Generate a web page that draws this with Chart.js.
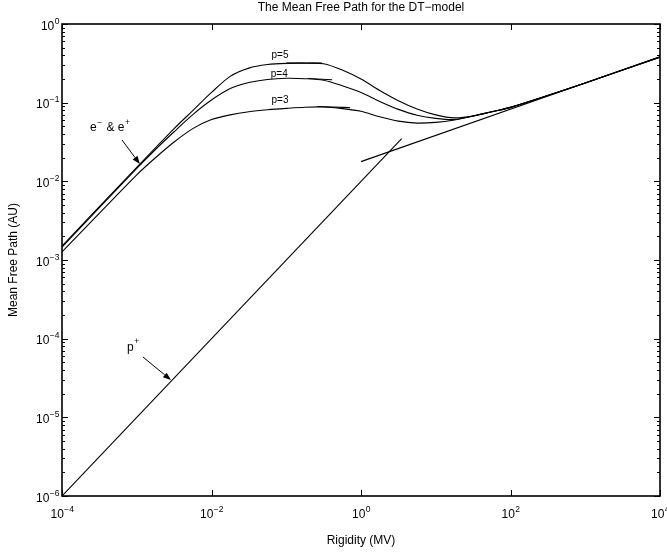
<!DOCTYPE html>
<html>
<head>
<meta charset="utf-8">
<title>The Mean Free Path for the DT-model</title>
<script src="https://cdn.jsdelivr.net/npm/chart.js@4.4.1/dist/chart.umd.min.js"></script>
<style>
  html, body { margin: 0; padding: 0; background: #fff; }
  #wrap { width: 667px; height: 556px; position: relative; }
</style>
</head>
<body>
<div id="wrap"><canvas id="mfp"></canvas></div>
<script>
// rigidity grid (MV) shared by the three electron curves
const rigidity = [1e-4, 1e-3, 1.78e-3, 3.16e-3, 5.62e-3, 1e-2, 1.78e-2, 3.16e-2, 5.62e-2, 0.1, 0.178, 0.316, 0.562,
                  1, 1.78, 3.16, 5.62, 10, 17.8, 31.6, 56.2, 100, 1000, 10000];
// mean free path (AU)
const lambdaP5 = [1.507e-3, 0.01507, 0.0266, 0.0468, 0.0794, 0.135, 0.216, 0.275, 0.305, 0.3162, 0.3177, 0.3126, 0.26,
                  0.1995, 0.1429, 0.1059, 0.0832, 0.070, 0.0641, 0.0676, 0.0767, 0.0871, 0.178, 0.38];
const lambdaP4 = [1.462e-3, 0.01462, 0.0254, 0.0427, 0.0705, 0.108, 0.151, 0.18, 0.197, 0.2042, 0.2018, 0.1928, 0.1641,
                  0.1349, 0.1035, 0.0822, 0.0692, 0.0631, 0.061, 0.0676, 0.0767, 0.0871, 0.178, 0.38];
const lambdaP3 = [1.265e-3, 0.01208, 0.01995, 0.0316, 0.0468, 0.061, 0.070, 0.0767, 0.0813, 0.0847, 0.0875, 0.0881, 0.0841,
                  0.0776, 0.0661, 0.0582, 0.055, 0.0562, 0.0603, 0.0676, 0.0767, 0.0871, 0.178, 0.38];

// short overlapping pieces at the end of each plateau
const tailRigidity5 = [0.1, 0.3];
const tailLambda5 = [0.319, 0.318];
const tailRigidity4 = [0.195, 0.41];
const tailLambda4 = [0.203, 0.196];
const tailRigidity3 = [0.26, 0.71];
const tailLambda3 = [0.0895, 0.0865];

// protons and the high rigidity asymptote
const protonRigidity = [1e-4, 3.5];
const protonLambda = [1e-6, 0.035];
const asymRigidity = [1, 1e4];
const asymLambda = [0.0178, 0.383];

// tick labels (powers of ten)
const xTickExp = [-4, -2, 0, 2, 4];
const yTickExp = [-6, -5, -4, -3, -2, -1, 0];

const curveLabels = ['p=5', 'p=4', 'p=3'];
const curveLabelAt = [[0.0824, 0.404], [0.0805, 0.231], [0.0824, 0.108]];

const pts = (xs, ys) => xs.map((x, i) => ({ x: x, y: ys[i] }));

const FONT = '"Liberation Sans", Arial, Helvetica, sans-serif';

function line(data, smooth) {
  return {
    data: data,
    showLine: true,
    borderColor: '#000',
    borderWidth: 1.1,
    pointRadius: 0,
    fill: false,
    tension: smooth ? 0.3 : 0
  };
}

function powLabel(ctx, exp, x, y, align) {
  const base = '10';
  const sup = exp < 0 ? '\u2212' + (-exp) : String(exp);
  ctx.font = '12px ' + FONT;
  const bw = ctx.measureText(base).width;
  ctx.font = '8.5px ' + FONT;
  const sw = ctx.measureText(sup).width;
  const left = align === 'right' ? x - bw - sw : x - (bw + sw) / 2;
  ctx.textAlign = 'left';
  ctx.textBaseline = 'alphabetic';
  ctx.font = '12px ' + FONT;
  ctx.fillText(base, left, y);
  ctx.font = '8.5px ' + FONT;
  ctx.fillText(sup, left + bw + 0.5, y - 6);
}

function arrow(ctx, x0, y0, x1, y1) {
  const ang = Math.atan2(y1 - y0, x1 - x0);
  const len = 8, half = 3;
  ctx.beginPath();
  ctx.moveTo(x0, y0);
  ctx.lineTo(x1 - len * Math.cos(ang), y1 - len * Math.sin(ang));
  ctx.stroke();
  ctx.beginPath();
  ctx.moveTo(x1, y1);
  ctx.lineTo(x1 - len * Math.cos(ang) + half * Math.sin(ang), y1 - len * Math.sin(ang) - half * Math.cos(ang));
  ctx.lineTo(x1 - len * Math.cos(ang) - half * Math.sin(ang), y1 - len * Math.sin(ang) + half * Math.cos(ang));
  ctx.closePath();
  ctx.fill();
}

const matlabAxes = {
  id: 'matlabAxes',
  afterDraw(chart) {
    const { ctx, chartArea: a, scales: { x, y } } = chart;
    ctx.save();
    ctx.strokeStyle = '#000';
    ctx.fillStyle = '#000';

    // ticks, pointing inwards
    ctx.lineWidth = 1;
    ctx.beginPath();
    yTickExp.forEach(e => {
      const py = Math.round(y.getPixelForValue(Math.pow(10, e))) + 0.5;
      ctx.moveTo(a.left, py); ctx.lineTo(a.left + 6, py);
      ctx.moveTo(a.right, py); ctx.lineTo(a.right - 6, py);
      if (e < 0) {
        for (let m = 2; m < 10; m++) {
          const pm = Math.round(y.getPixelForValue(m * Math.pow(10, e))) + 0.5;
          ctx.moveTo(a.left, pm); ctx.lineTo(a.left + 3, pm);
          ctx.moveTo(a.right, pm); ctx.lineTo(a.right - 3, pm);
        }
      }
    });
    xTickExp.forEach(e => {
      const px = Math.round(x.getPixelForValue(Math.pow(10, e))) + 0.5;
      ctx.moveTo(px, a.bottom); ctx.lineTo(px, a.bottom - 6);
      ctx.moveTo(px, a.top); ctx.lineTo(px, a.top + 6);
    });
    ctx.stroke();

    // box
    ctx.lineWidth = 1.6;
    ctx.strokeRect(a.left, a.top, a.right - a.left, a.bottom - a.top);

    // tick labels
    yTickExp.forEach(e => {
      powLabel(ctx, e, a.left - 3, y.getPixelForValue(Math.pow(10, e)) + 5.5, 'right');
    });
    xTickExp.forEach(e => {
      powLabel(ctx, e, x.getPixelForValue(Math.pow(10, e)), a.bottom + 21.5, 'center');
    });

    // titles
    ctx.font = '12px ' + FONT;
    ctx.textAlign = 'center';
    ctx.textBaseline = 'middle';
    ctx.fillText('The Mean Free Path for the DT\u2212model', (a.left + a.right) / 2, 8);
    ctx.fillText('Rigidity (MV)', (a.left + a.right) / 2, 541);
    ctx.save();
    ctx.translate(14, (a.top + a.bottom) / 2);
    ctx.rotate(-Math.PI / 2);
    ctx.fillText('Mean Free Path (AU)', 0, 0);
    ctx.restore();

    // curve labels
    ctx.font = '10px ' + FONT;
    curveLabels.forEach((t, i) => {
      ctx.fillText(t, x.getPixelForValue(curveLabelAt[i][0]), y.getPixelForValue(curveLabelAt[i][1]));
    });

    // e- & e+ label
    ctx.textAlign = 'left';
    ctx.textBaseline = 'alphabetic';
    let ex = x.getPixelForValue(4.53e-4) - 21, ey = y.getPixelForValue(0.049) + 4;
    ctx.font = '12px ' + FONT;
    ctx.fillText('e', ex, ey); ex += ctx.measureText('e').width + 0.5;
    ctx.font = '8.5px ' + FONT;
    ctx.fillText('\u2212', ex, ey - 6); ex += ctx.measureText('\u2212').width + 1;
    ctx.font = '12px ' + FONT;
    ctx.fillText(' & e', ex, ey); ex += ctx.measureText(' & e').width + 0.5;
    ctx.font = '8.5px ' + FONT;
    ctx.fillText('+', ex, ey - 6);

    // p+ label
    let px = x.getPixelForValue(8.63e-4) - 5, py = y.getPixelForValue(7.83e-5) + 4;
    ctx.font = '12px ' + FONT;
    ctx.fillText('p', px, py); px += ctx.measureText('p').width + 0.5;
    ctx.font = '8.5px ' + FONT;
    ctx.fillText('+', px, py - 7);

    // arrows
    ctx.lineWidth = 1;
    arrow(ctx, x.getPixelForValue(6.35e-4), y.getPixelForValue(0.0335),
               x.getPixelForValue(1.1e-3), y.getPixelForValue(0.0166));
    arrow(ctx, x.getPixelForValue(1.21e-3), y.getPixelForValue(5.85e-5),
               x.getPixelForValue(2.87e-3), y.getPixelForValue(2.98e-5));
    ctx.restore();
  }
};

const ctx = document.getElementById('mfp').getContext('2d');
const chart = new Chart(ctx, {
  type: 'scatter',
  data: {
    datasets: [
      line(pts(rigidity, lambdaP5), true),
      line(pts(rigidity, lambdaP4), true),
      line(pts(rigidity, lambdaP3), true),
      line(pts(tailRigidity5, tailLambda5), false),
      line(pts(tailRigidity4, tailLambda4), false),
      line(pts(tailRigidity3, tailLambda3), false),
      line(pts(protonRigidity, protonLambda), false),
      line(pts(asymRigidity, asymLambda), false)
    ]
  },
  options: {
    responsive: true,
    maintainAspectRatio: false,
    animation: false,
    layout: { padding: { left: 62, right: 7, top: 24, bottom: 60 } },
    plugins: { legend: { display: false }, tooltip: { enabled: false }, title: { display: false } },
    scales: {
      x: { type: 'logarithmic', min: 1e-4, max: 1e4, display: false },
      y: { type: 'logarithmic', min: 1e-6, max: 1, display: false }
    }
  },
  plugins: [matlabAxes]
});
</script>
</body>
</html>
